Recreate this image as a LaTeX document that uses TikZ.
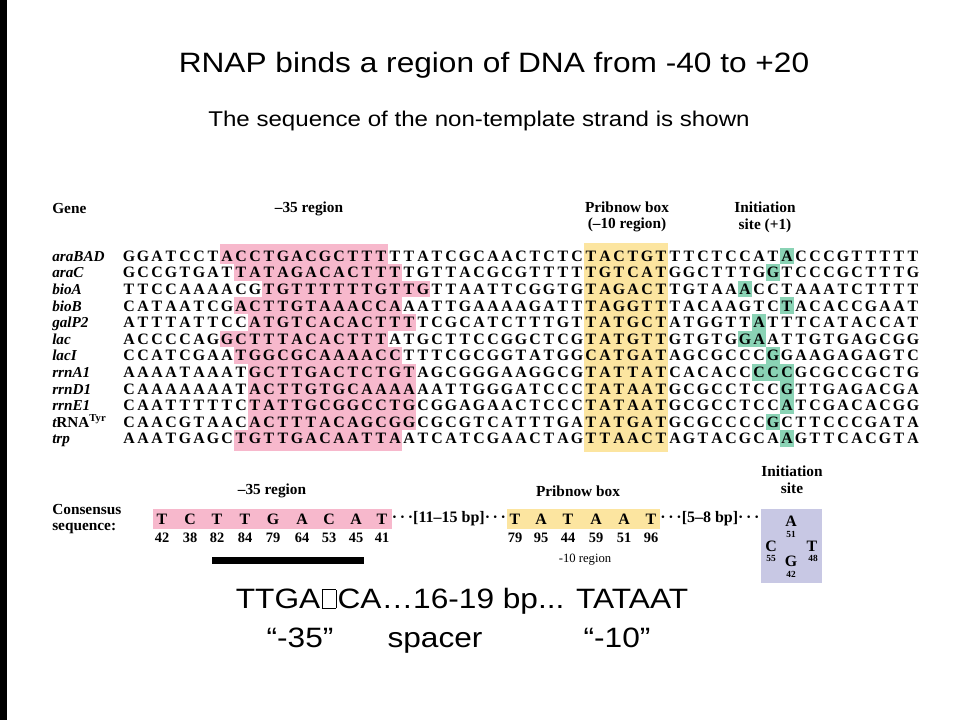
\documentclass[tikz,border=0pt]{standalone}
\usepackage{fontspec}
\usepackage{xstring}
\setmainfont{Liberation Serif}
\newfontfamily\slidefont[FakeStretch=1.13]{Liberation Sans}
\usetikzlibrary{positioning}

\definecolor{minuspink}{RGB}{247,184,204}
\definecolor{pribgold}{RGB}{252,229,160}
\definecolor{startgreen}{RGB}{138,211,181}
\definecolor{sitelav}{RGB}{200,200,228}

\tikzset{
  nuc/.style={inner sep=0pt,text height=7.9pt,text depth=0pt,font=\bfseries\fontsize{11.9}{12}\selectfont},
  genename/.style={anchor=west,inner sep=0pt,text height=7.9pt,text depth=0pt,font=\bfseries\itshape\fontsize{11.4}{12}\selectfont},
  colhead/.style={inner sep=0pt,align=center,font=\bfseries\fontsize{11.5}{12.5}\selectfont},
  numlab/.style={inner sep=0pt,font=\bfseries\fontsize{10.8}{12}\selectfont},
  sitenum/.style={inner sep=0pt,font=\bfseries\fontsize{7}{8}\selectfont},
  gaplab/.style={inner sep=0pt,font=\bfseries\fontsize{12}{13}\selectfont},
  slidetext/.style={inner sep=0pt,anchor=base,font=\slidefont\fontsize{21}{24}\selectfont}
}

\newcommand\notdefbox{\hspace{1pt}{\setlength\fboxsep{0pt}\setlength\fboxrule{0.5pt}\fbox{\rule{0pt}{13.5pt}\hspace{10pt}}}\hspace{1pt}}

\def\promoters{
 1/araBAD/GGATCCTACCTGACGCTTTTTATCGCAACTCTCTACTGTTTCTCCATACCCGTTTTT/8/19,
 2/araC/GCCGTGATTATAGACACTTTTGTTACGCGTTTTTGTCATGGCTTTGGTCCCGCTTTG/9/20,
 3/bioA/TTCCAAAACGTGTTTTTTGTTGTTAATTCGGTGTAGACTTGTAAACCTAAATCTTTT/11/22,
 4/bioB/CATAATCGACTTGTAAACCAAATTGAAAAGATTTAGGTTTACAAGTCTACACCGAAT/9/20,
 5/galP2/ATTTATTCCATGTCACACTTTTCGCATCTTTGTTATGCTATGGTTATTTCATACCAT/10/21,
 6/lac/ACCCCAGGCTTTACACTTTATGCTTCCGGCTCGTATGTTGTGTGGAATTGTGAGCGG/8/19,
 7/lacI/CCATCGAATGGCGCAAAACCTTTCGCGGTATGGCATGATAGCGCCCGGAAGAGAGTC/9/20,
 8/rrnA1/AAAATAAATGCTTGACTCTGTAGCGGGAAGGCGTATTATCACACCCCCGCGCCGCTG/10/21,
 9/rrnD1/CAAAAAAATACTTGTGCAAAAAATTGGGATCCCTATAATGCGCCTCCGTTGAGACGA/10/21,
 10/rrnE1/CAATTTTTCTATTGCGGCCTGCGGAGAACTCCCTATAATGCGCCTCCATCGACACGG/10/21,
 11/{t\upshape RNA\textsuperscript{Tyr}}/CAACGTAACACTTTACAGCGGCGCGTCATTTGATATGATGCGCCCCGCTTCCCGATA/10/21,
 12/trp/AAATGAGCTGTTGACAATTAATCATCGAACTAGTTAACTAGTACGCAAGTTCACGTA/9/20}

\begin{document}
\begin{tikzpicture}[x=0.75pt,y=-0.75pt]

\fill[white] (0,0) rectangle (960,720);
\useasboundingbox (0,0) rectangle (960,720);
\fill[black] (0,0) rectangle (7,720);

\node[slidetext] (title) at (494,73) {RNAP binds a region of DNA from -40 to +20};
\node[slidetext,font=\slidefont\fontsize{16}{18}\selectfont] (subtitle) at (479,127) {The sequence of the non-template strand is shown};

% boxes behind the sequences
\fill[pribgold] (584,243) rectangle (668,452);
\foreach \row/\gname/\dna/\pa/\pb in \promoters {
  \pgfmathsetmacro\ytop{256+(\row-1)*16.6-8.3-(\row==1)*3.7}
  \pgfmathsetmacro\ybot{256+(\row-1)*16.6+8.3+(\row==12)*3.7}
  \fill[minuspink] ({108+14*\pa},\ytop) rectangle ({122+14*\pb},\ybot);
}
\foreach \row/\pos in {1/48,2/47,3/45,4/48,5/46,6/45,6/46,7/47,8/46,8/47,8/48,9/48,10/48,11/47,12/48}
  \fill[startgreen] ({108+14*\pos},{256+(\row-1)*16.6-8.3}) rectangle +(14,16.6);

\node[colhead,anchor=west] (genehd) at (52,209) {Gene};
\node[colhead] (m35hd) at (309,209) {–35 region};
\node[colhead] (pribhd) at (627,217) {Pribnow box\\(–10 region)};
\node[colhead] (inithd) at (765,217) {Initiation\\site (+1)};

\foreach \row/\gname/\dna/\pa/\pb in \promoters {
  \pgfmathsetmacro\ry{256+(\row-1)*16.6}
  \node[genename] (gene\row) at (52,\ry) {\gname};
  \foreach \i in {1,...,57} {
    \StrChar{\dna}{\i}[\nuc]
    \node[nuc] (n\row-\i) at ({115+14*\i},\ry) {\nuc};
  }
}

% consensus
\node[colhead,anchor=west,align=left] (conslab) at (52,519) {Consensus\\sequence:};
\node[colhead] (m35cons) at (272,491) {–35 region};
\fill[minuspink] (153,509) rectangle (392,529);
\foreach \x/\nt/\pct [count=\k] in {162/T/42,190/C/38,217/T/82,245/T/84,273/G/79,302/A/64,329/C/53,356/A/45,382/T/41} {
  \node[nuc] (m35b\k) at (\x,519) {\nt};
  \node[numlab] (m35p\k) at (\x,538) {\pct};
}
\node[gaplab] (spacer1) at (449,519) {·\,·\,·[11–15 bp]·\,·\,·};

\node[colhead] (pribcons) at (578,491) {Pribnow box};
\fill[pribgold] (507,509) rectangle (660,529);
\foreach \x/\nt/\pct [count=\k] in {515/T/79,541/A/95,568/T/44,596/A/59,624/A/51,651/T/96} {
  \node[nuc] (m10b\k) at (\x,519) {\nt};
  \node[numlab] (m10p\k) at (\x,538) {\pct};
}
\node[inner sep=0pt,font=\fontsize{9.5}{11}\selectfont] (m10lab) at (585,560) {-10 region};
\node[gaplab] (spacer2) at (710,519) {·\,·\,·[5–8 bp]·\,·\,·};

\node[colhead] (initcons) at (792,480) {Initiation\\site};
\fill[sitelav] (761,509) rectangle (822,583);
\node[nuc] (siteA) at (791,521) {A};
\node[sitenum] (siteAp) at (791,534) {51};
\node[nuc] (siteC) at (771,546) {C};
\node[sitenum] (siteCp) at (771,558) {55};
\node[nuc] (siteT) at (812,546) {T};
\node[sitenum] (siteTp) at (813,558) {48};
\node[nuc] (siteG) at (791,561) {G};
\node[sitenum] (siteGp) at (791,574) {42};

\fill (212,557) rectangle (364,564);

\node[slidetext] (motif) at (462,608) {TTGA\notdefbox CA…16-19 bp... TATAAT};
\node[slidetext] (m35q) at (300,647) {“-35”};
\node[slidetext] (spq) at (435,647) {spacer};
\node[slidetext] (m10q) at (617,647) {“-10”};

\end{tikzpicture}
\end{document}
